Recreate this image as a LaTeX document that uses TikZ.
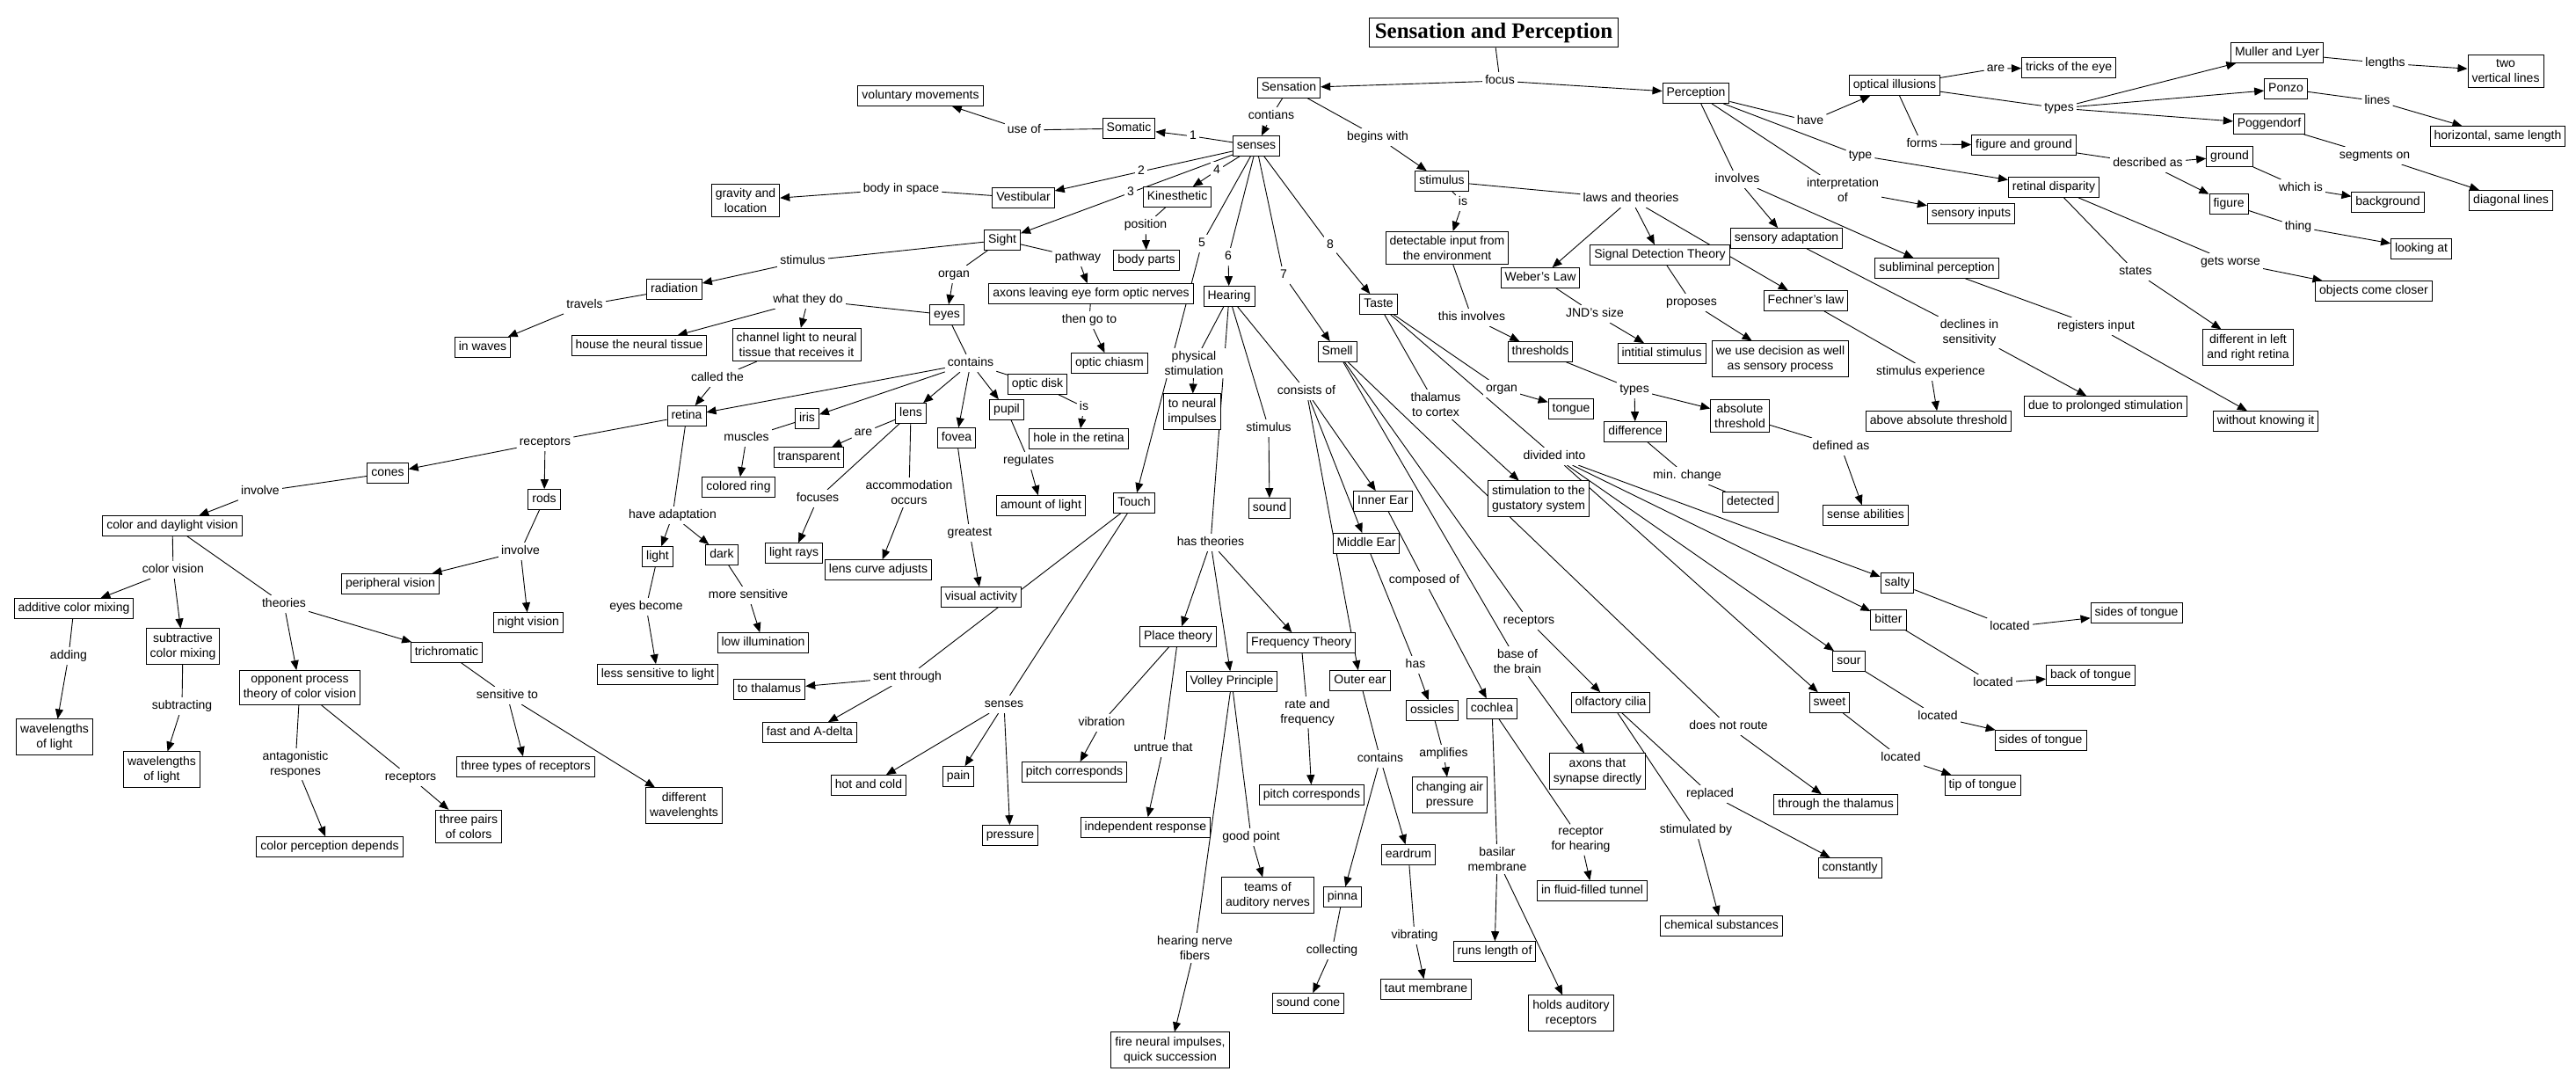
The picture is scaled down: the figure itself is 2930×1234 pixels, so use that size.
\documentclass[tikz,border=0pt]{standalone}
\usepackage{fontspec}
\setmainfont{Liberation Sans}
\newfontfamily\titlefont{Liberation Serif}
\usetikzlibrary{arrows.meta}
\pgfdeclarelayer{bg}
\pgfsetlayers{bg,main}
\begin{document}
\begin{tikzpicture}[
  x=1pt,y=-1pt,
  font=\fontsize{14}{17}\selectfont,
  cbox/.style={draw=black,fill=white,line width=1pt,inner xsep=4.5pt},
  concept/.style={cbox,inner ysep=4.5pt,text height=10.5pt,text depth=3.2pt},
  concept2/.style={cbox,inner ysep=5pt,align=center},
  linkw/.style={fill=white,inner sep=3pt,text height=10.5pt,text depth=3.2pt},
  linkw2/.style={fill=white,inner sep=3pt,align=center},
  title/.style={cbox,line width=1.2pt,inner xsep=6pt,inner ysep=5.5pt,font=\titlefont\bfseries\fontsize{25}{30}\selectfont},
  ln/.style={draw=black,line width=0.9pt},
  ar/.style={ln,-{Triangle[length=11pt,width=9pt]}},
]
\useasboundingbox (0,0) rectangle (2930,1234);
\node[title] (ttl) at (1699,37) {Sensation and Perception};
\node[concept] (sensation) at (1466,100) {Sensation};
\node[concept] (perception) at (1929,106) {Perception};
\node[concept] (senses) at (1429,166) {senses};
\node[concept] (stimbox) at (1640,206) {stimulus};
\node[concept] (somatic) at (1284,146) {Somatic};
\node[concept] (volmov) at (1047,109) {voluntary movements};
\node[concept] (vestib) at (1164,225) {Vestibular};
\node[concept2] (gravity) at (848,228) {gravity and\\location};
\node[concept] (kines) at (1339,224) {Kinesthetic};
\node[concept] (bodyparts) at (1304,296) {body parts};
\node[concept] (sight) at (1140,273) {Sight};
\node[concept] (radiation) at (767,329) {radiation};
\node[concept] (inwaves) at (549,395) {in waves};
\node[concept] (house) at (727,393) {house the neural tissue};
\node[concept2] (channel) at (906,392) {channel light to neural\\tissue that receives it};
\node[concept] (eyes) at (1077,358) {eyes};
\node[concept] (axons) at (1241,334) {axons leaving eye form optic nerves};
\node[concept] (chiasm) at (1262,413) {optic chiasm};
\node[concept] (hearing) at (1398,337) {Hearing};
\node[concept] (touch) at (1290,572) {Touch};
\node[concept] (taste) at (1568,346) {Taste};
\node[concept] (smell) at (1521,400) {Smell};
\node[concept] (retina) at (781,473) {retina};
\node[concept] (iris) at (918,476) {iris};
\node[concept] (lens) at (1036,470) {lens};
\node[concept] (fovea) at (1088,498) {fovea};
\node[concept] (pupil) at (1145,466) {pupil};
\node[concept] (opticdisk) at (1180,437) {optic disk};
\node[concept] (hole) at (1227,499) {hole in the retina};
\node[concept] (transparent) at (920,520) {transparent};
\node[concept] (coloredring) at (840,554) {colored ring};
\node[concept] (amountlight) at (1184,575) {amount of light};
\node[concept] (lightrays) at (903,629) {light rays};
\node[concept] (lenscurve) at (999,648) {lens curve adjusts};
\node[concept] (visual) at (1116,679) {visual activity};
\node[concept] (light) at (748,633) {light};
\node[concept] (dark) at (821,631) {dark};
\node[concept] (lowillum) at (868,731) {low illumination};
\node[concept] (lesssens) at (748,767) {less sensitive to light};
\node[concept] (cones) at (441,538) {cones};
\node[concept] (rods) at (619,568) {rods};
\node[concept] (colordaylight) at (196,598) {color and daylight vision};
\node[concept] (peripheral) at (444,664) {peripheral vision};
\node[concept] (nightvision) at (601,708) {night vision};
\node[concept] (additive) at (84,692) {additive color mixing};
\node[concept2] (subtractive) at (208,735) {subtractive\\color mixing};
\node[concept] (trichromatic) at (508,742) {trichromatic};
\node[concept2] (opponent) at (341,782) {opponent process\\theory of color vision};
\node[concept2] (wave1) at (62,838) {wavelengths\\of light};
\node[concept2] (wave2) at (184,875) {wavelengths\\of light};
\node[concept] (threetypes) at (598,872) {three types of receptors};
\node[concept2] (diffwave) at (778,916) {different\\wavelenghts};
\node[concept2] (threepairs) at (533,940) {three pairs\\of colors};
\node[concept] (colorperc) at (375,963) {color perception depends};
\node[concept2] (neural) at (1356,468) {to neural\\impulses};
\node[concept] (sound) at (1444,578) {sound};
\node[concept] (tothal) at (875,784) {to thalamus};
\node[concept] (fastdelta) at (921,833) {fast and A-delta};
\node[concept] (hotcold) at (988,893) {hot and cold};
\node[concept] (pain) at (1090,883) {pain};
\node[concept] (pressure) at (1149,950) {pressure};
\node[concept] (place) at (1340,724) {Place theory};
\node[concept] (volley) at (1401,775) {Volley Principle};
\node[concept] (freq) at (1480,731) {Frequency Theory};
\node[concept] (pitch1) at (1222,878) {pitch corresponds};
\node[concept] (indep) at (1303,941) {independent response};
\node[concept2] (teams) at (1442,1018) {teams of\\auditory nerves};
\node[concept2] (fire) at (1331,1194) {fire neural impulses,\\quick succession};
\node[concept] (pitch2) at (1492,904) {pitch corresponds};
\node[concept] (inner) at (1573,570) {Inner Ear};
\node[concept] (middle) at (1554,618) {Middle Ear};
\node[concept] (outer) at (1547,774) {Outer ear};
\node[concept] (ossicles) at (1629,808) {ossicles};
\node[concept] (cochlea) at (1697,806) {cochlea};
\node[concept2] (changing) at (1649,904) {changing air\\pressure};
\node[concept] (eardrum) at (1602,972) {eardrum};
\node[concept] (pinna) at (1527,1020) {pinna};
\node[concept] (soundcone) at (1488,1141) {sound cone};
\node[concept] (taut) at (1622,1125) {taut membrane};
\node[concept] (runs) at (1700,1082) {runs length of};
\node[concept2] (holds) at (1787,1152) {holds auditory\\receptors};
\node[concept] (fluid) at (1811,1013) {in fluid-filled tunnel};
\node[concept] (olfactory) at (1832,799) {olfactory cilia};
\node[concept2] (axsyn) at (1817,877) {axons that\\synapse directly};
\node[concept] (chemical) at (1958,1053) {chemical substances};
\node[concept] (constantly) at (2104,987) {constantly};
\node[concept] (thruthal) at (2088,915) {through the thalamus};
\node[concept] (tongue) at (1787,465) {tongue};
\node[concept2] (gustatory) at (1750,567) {stimulation to the\\gustatory system};
\node[concept] (salty) at (2158,663) {salty};
\node[concept] (bitter) at (2148,705) {bitter};
\node[concept] (sour) at (2103,752) {sour};
\node[concept] (sweet) at (2081,799) {sweet};
\node[concept] (sides1) at (2430,697) {sides of tongue};
\node[concept] (back) at (2378,768) {back of tongue};
\node[concept] (sides2) at (2321,842) {sides of tongue};
\node[concept] (tip) at (2255,893) {tip of tongue};
\node[concept2] (detectable) at (1646,282) {detectable input from\\the environment};
\node[concept] (weber) at (1752,316) {Weber's Law};
\node[concept] (sdt) at (1888,290) {Signal Detection Theory};
\node[concept] (fechner) at (2054,342) {Fechner's law};
\node[concept] (thresholds) at (1752,400) {thresholds};
\node[concept] (initial) at (1890,402) {intitial stimulus};
\node[concept2] (decision) at (2025,408) {we use decision as well\\as sensory process};
\node[concept] (difference) at (1860,491) {difference};
\node[concept2] (absolute) at (1979,473) {absolute\\threshold};
\node[concept] (detected) at (1991,571) {detected};
\node[concept] (senseab) at (2122,586) {sense abilities};
\node[concept] (sensadapt) at (2032,271) {sensory adaptation};
\node[concept] (sublim) at (2203,305) {subliminal perception};
\node[concept] (abovethr) at (2205,479) {above absolute threshold};
\node[concept] (prolonged) at (2395,462) {due to prolonged stimulation};
\node[concept] (without) at (2577,479) {without knowing it};
\node[concept] (optical) at (2155,97) {optical illusions};
\node[concept] (tricks) at (2353,77) {tricks of the eye};
\node[concept] (figground) at (2302,165) {figure and ground};
\node[concept] (retdisp) at (2336,213) {retinal disparity};
\node[concept] (sensinputs) at (2242,243) {sensory inputs};
\node[concept] (muller) at (2590,60) {Muller and Lyer};
\node[concept2] (twovert) at (2850,81) {two\\vertical lines};
\node[concept] (ponzo) at (2600,101) {Ponzo};
\node[concept] (horizontal) at (2841,155) {horizontal, same length};
\node[concept] (pogg) at (2581,141) {Poggendorf};
\node[concept] (diagonal) at (2856,228) {diagonal lines};
\node[concept] (ground) at (2536,178) {ground};
\node[concept] (background) at (2716,230) {background};
\node[concept] (figure) at (2535,232) {figure};
\node[concept] (looking) at (2754,283) {looking at};
\node[concept] (objects) at (2700,331) {objects come closer};
\node[concept2] (difflr) at (2557,395) {different in left\\and right retina};
\node[linkw] (lfocus) at (1706,92) {focus};
\node[linkw] (lcontians) at (1446,132) {contians};
\node[linkw] (lbegins) at (1567,156) {begins with};
\node[linkw] (l1) at (1357,155) {1};
\node[linkw] (l2) at (1298,195) {2};
\node[linkw] (l3) at (1286,219) {3};
\node[linkw] (l4) at (1384,194) {4};
\node[linkw] (l5) at (1367,277) {5};
\node[linkw] (l6) at (1397,292) {6};
\node[linkw] (l7) at (1460,313) {7};
\node[linkw] (l8) at (1513,279) {8};
\node[linkw] (luseof) at (1165,148) {use of};
\node[linkw] (lbody) at (1025,215) {body in space};
\node[linkw] (lposition) at (1303,256) {position};
\node[linkw] (lstimulus) at (913,297) {stimulus};
\node[linkw] (ltravels) at (665,347) {travels};
\node[linkw] (lpathway) at (1226,293) {pathway};
\node[linkw] (lorgan) at (1085,312) {organ};
\node[linkw] (lwhat) at (919,341) {what they do};
\node[linkw] (lthengo) at (1239,364) {then go to};
\node[linkw] (lcontains) at (1104,413) {contains};
\node[linkw] (lcalled) at (816,430) {called the};
\node[linkw] (lis1) at (1233,463) {is};
\node[linkw] (lmuscles) at (849,498) {muscles};
\node[linkw] (lare1) at (982,492) {are};
\node[linkw] (lregulates) at (1170,524) {regulates};
\node[linkw] (lfocuses) at (930,567) {focuses};
\node[linkw2] (laccom) at (1034,560) {accommodation\\occurs};
\node[linkw] (lgreatest) at (1103,606) {greatest};
\node[linkw] (lhaveadapt) at (765,586) {have adaptation};
\node[linkw] (leyesbecome) at (735,690) {eyes become};
\node[linkw] (lmoresens) at (851,677) {more sensitive};
\node[linkw] (lreceptors1) at (620,503) {receptors};
\node[linkw] (linvolve1) at (296,559) {involve};
\node[linkw] (linvolve2) at (592,627) {involve};
\node[linkw] (lcolorvision) at (197,648) {color vision};
\node[linkw] (ltheories) at (323,687) {theories};
\node[linkw] (ladding) at (78,746) {adding};
\node[linkw] (lsubtracting) at (207,803) {subtracting};
\node[linkw] (lsensitive) at (577,791) {sensitive to};
\node[linkw2] (lantag) at (336,869) {antagonistic\\respones};
\node[linkw] (lreceptors2) at (467,884) {receptors};
\node[linkw2] (lphysical) at (1358,413) {physical\\stimulation};
\node[linkw] (lstimulus2) at (1443,487) {stimulus};
\node[linkw] (lhastheories) at (1377,617) {has theories};
\node[linkw] (lsent) at (1032,770) {sent through};
\node[linkw] (lsenses) at (1142,801) {senses};
\node[linkw] (lvibration) at (1253,822) {vibration};
\node[linkw] (luntrue) at (1323,851) {untrue that};
\node[linkw] (lgoodpoint) at (1423,952) {good point};
\node[linkw2] (lhearingnerve) at (1359,1078) {hearing nerve\\fibers};
\node[linkw2] (lrate) at (1487,810) {rate and\\frequency};
\node[linkw] (lconsists) at (1486,445) {consists of};
\node[linkw] (lcomposed) at (1620,660) {composed of};
\node[linkw] (lhas) at (1610,756) {has};
\node[linkw] (lamplifies) at (1642,857) {amplifies};
\node[linkw] (lcontains2) at (1570,863) {contains};
\node[linkw] (lcollecting) at (1515,1081) {collecting};
\node[linkw] (lvibrating) at (1609,1064) {vibrating};
\node[linkw2] (lbasilar) at (1703,977) {basilar\\membrane};
\node[linkw2] (lrecephear) at (1798,955) {receptor\\for hearing};
\node[linkw] (lreceptors3) at (1739,706) {receptors};
\node[linkw2] (lbase) at (1726,752) {base of\\the brain};
\node[linkw] (lstimby) at (1929,944) {stimulated by};
\node[linkw] (lreplaced) at (1945,903) {replaced};
\node[linkw] (ldoesnot) at (1966,826) {does not route};
\node[linkw2] (lthalcortex) at (1633,460) {thalamus\\to cortex};
\node[linkw] (lorgan2) at (1708,442) {organ};
\node[linkw] (ldivided) at (1768,519) {divided into};
\node[linkw] (llocated1) at (2286,713) {located};
\node[linkw] (llocated2) at (2267,777) {located};
\node[linkw] (llocated3) at (2204,815) {located};
\node[linkw] (llocated4) at (2162,862) {located};
\node[linkw] (lis2) at (1664,230) {is};
\node[linkw] (llaws) at (1855,226) {laws and theories};
\node[linkw] (lthisinv) at (1674,361) {this involves};
\node[linkw] (ltypes2) at (1859,443) {types};
\node[linkw] (lminchange) at (1919,541) {min. change};
\node[linkw] (ldefined) at (2094,508) {defined as};
\node[linkw] (ljnd) at (1814,357) {JND's size};
\node[linkw] (lproposes) at (1924,344) {proposes};
\node[linkw] (lstimexp) at (2196,423) {stimulus experience};
\node[linkw] (lhave) at (2059,138) {have};
\node[linkw] (ltype) at (2116,177) {type};
\node[linkw] (linvolves) at (1976,204) {involves};
\node[linkw2] (linterp) at (2096,216) {interpretation\\of};
\node[linkw2] (ldeclines) at (2240,378) {declines in\\sensitivity};
\node[linkw] (lregisters) at (2384,371) {registers input};
\node[linkw] (lare2) at (2270,78) {are};
\node[linkw] (ltypes) at (2342,123) {types};
\node[linkw] (lforms) at (2186,164) {forms};
\node[linkw] (llengths) at (2713,72) {lengths};
\node[linkw] (llines) at (2704,115) {lines};
\node[linkw] (lsegments) at (2701,177) {segments on};
\node[linkw] (ldescribed) at (2443,186) {described as};
\node[linkw] (lwhich) at (2617,214) {which is};
\node[linkw] (lthing) at (2614,258) {thing};
\node[linkw] (lgetsworse) at (2537,298) {gets worse};
\node[linkw] (lstates) at (2429,309) {states};
\begin{pgfonlayer}{bg}
\foreach \a/\b in {ttl/lfocus,sensation/lcontians,sensation/lbegins,
  senses/l1,senses/l2,senses/l3,senses/l4,senses/l5,senses/l6,senses/l7,senses/l8,
  somatic/luseof,vestib/lbody,kines/lposition,sight/lstimulus,sight/lpathway,sight/lorgan,
  radiation/ltravels,axons/lthengo,eyes/lwhat,eyes/lcontains,channel/lcalled,
  opticdisk/lis1,iris/lmuscles,lens/lare1,lens/lfocuses,lens/laccom,pupil/lregulates,
  fovea/lgreatest,retina/lreceptors1,retina/lhaveadapt,light/leyesbecome,dark/lmoresens,
  cones/linvolve1,rods/linvolve2,colordaylight/lcolorvision,colordaylight/ltheories,
  additive/ladding,subtractive/lsubtracting,trichromatic/lsensitive,
  opponent/lantag,opponent/lreceptors2,
  hearing/lphysical,hearing/lstimulus2,hearing/lhastheories,hearing/lconsists,
  touch/lsent,touch/lsenses,place/lvibration,place/luntrue,
  volley/lgoodpoint,volley/lhearingnerve,freq/lrate,inner/lcomposed,middle/lhas,
  ossicles/lamplifies,outer/lcontains2,pinna/lcollecting,eardrum/lvibrating,
  cochlea/lbasilar,cochlea/lrecephear,smell/lreceptors3,smell/lbase,smell/ldoesnot,
  olfactory/lstimby,olfactory/lreplaced,taste/lthalcortex,taste/lorgan2,taste/ldivided,
  salty/llocated1,bitter/llocated2,sour/llocated3,sweet/llocated4,
  stimbox/lis2,stimbox/llaws,detectable/lthisinv,thresholds/ltypes2,
  difference/lminchange,absolute/ldefined,weber/ljnd,sdt/lproposes,fechner/lstimexp,
  perception/lhave,perception/ltype,perception/linvolves,perception/linterp,
  sensadapt/ldeclines,sublim/lregisters,optical/lare2,optical/ltypes,optical/lforms,
  muller/llengths,ponzo/llines,pogg/lsegments,figground/ldescribed,ground/lwhich,
  figure/lthing,retdisp/lgetsworse,retdisp/lstates,
  lcontains/opticdisk,lminchange/detected}
  \draw[ln] (\a) -- (\b);
\foreach \a/\b in {lfocus/sensation,lfocus/perception,lcontians/senses,lbegins/stimbox,
  l1/somatic,l2/vestib,l3/sight,l4/kines,l5/touch,l6/hearing,l7/smell,l8/taste,
  luseof/volmov,lbody/gravity,lposition/bodyparts,lstimulus/radiation,ltravels/inwaves,
  lpathway/axons,lorgan/eyes,lthengo/chiasm,lwhat/house,lwhat/channel,
  lcontains/retina,lcontains/iris,lcontains/lens,lcontains/fovea,lcontains/pupil,
  lcalled/retina,lis1/hole,lmuscles/coloredring,lare1/transparent,lfocuses/lightrays,
  laccom/lenscurve,lregulates/amountlight,lgreatest/visual,
  lhaveadapt/light,lhaveadapt/dark,leyesbecome/lesssens,lmoresens/lowillum,
  lreceptors1/cones,lreceptors1/rods,linvolve1/colordaylight,
  linvolve2/peripheral,linvolve2/nightvision,lcolorvision/additive,lcolorvision/subtractive,
  ltheories/opponent,ltheories/trichromatic,ladding/wave1,lsubtracting/wave2,
  lsensitive/threetypes,lsensitive/diffwave,lantag/colorperc,lreceptors2/threepairs,
  lphysical/neural,lstimulus2/sound,lhastheories/place,lhastheories/volley,lhastheories/freq,
  lsent/tothal,lsent/fastdelta,lsenses/hotcold,lsenses/pain,lsenses/pressure,
  lvibration/pitch1,luntrue/indep,lgoodpoint/teams,lhearingnerve/fire,lrate/pitch2,
  lconsists/inner,lconsists/middle,lconsists/outer,lcomposed/cochlea,lhas/ossicles,
  lamplifies/changing,lcontains2/pinna,lcontains2/eardrum,lcollecting/soundcone,
  lvibrating/taut,lbasilar/runs,lbasilar/holds,lrecephear/fluid,lreceptors3/olfactory,
  lbase/axsyn,lstimby/chemical,lreplaced/constantly,ldoesnot/thruthal,
  lthalcortex/gustatory,lorgan2/tongue,
  ldivided/salty,ldivided/bitter,ldivided/sour,ldivided/sweet,
  llocated1/sides1,llocated2/back,llocated3/sides2,llocated4/tip,
  lis2/detectable,llaws/weber,llaws/sdt,llaws/fechner,lthisinv/thresholds,
  ltypes2/difference,ltypes2/absolute,ldefined/senseab,ljnd/initial,lproposes/decision,
  lstimexp/abovethr,lhave/optical,ltype/retdisp,linvolves/sensadapt,linvolves/sublim,
  linterp/sensinputs,ldeclines/prolonged,lregisters/without,lare2/tricks,
  ltypes/muller,ltypes/ponzo,ltypes/pogg,lforms/figground,
  llengths/twovert,llines/horizontal,lsegments/diagonal,
  ldescribed/ground,ldescribed/figure,lwhich/background,lthing/looking,
  lgetsworse/objects,lstates/difflr}
  \draw[ar] (\a) -- (\b);
\end{pgfonlayer}
\end{tikzpicture}
\end{document}
